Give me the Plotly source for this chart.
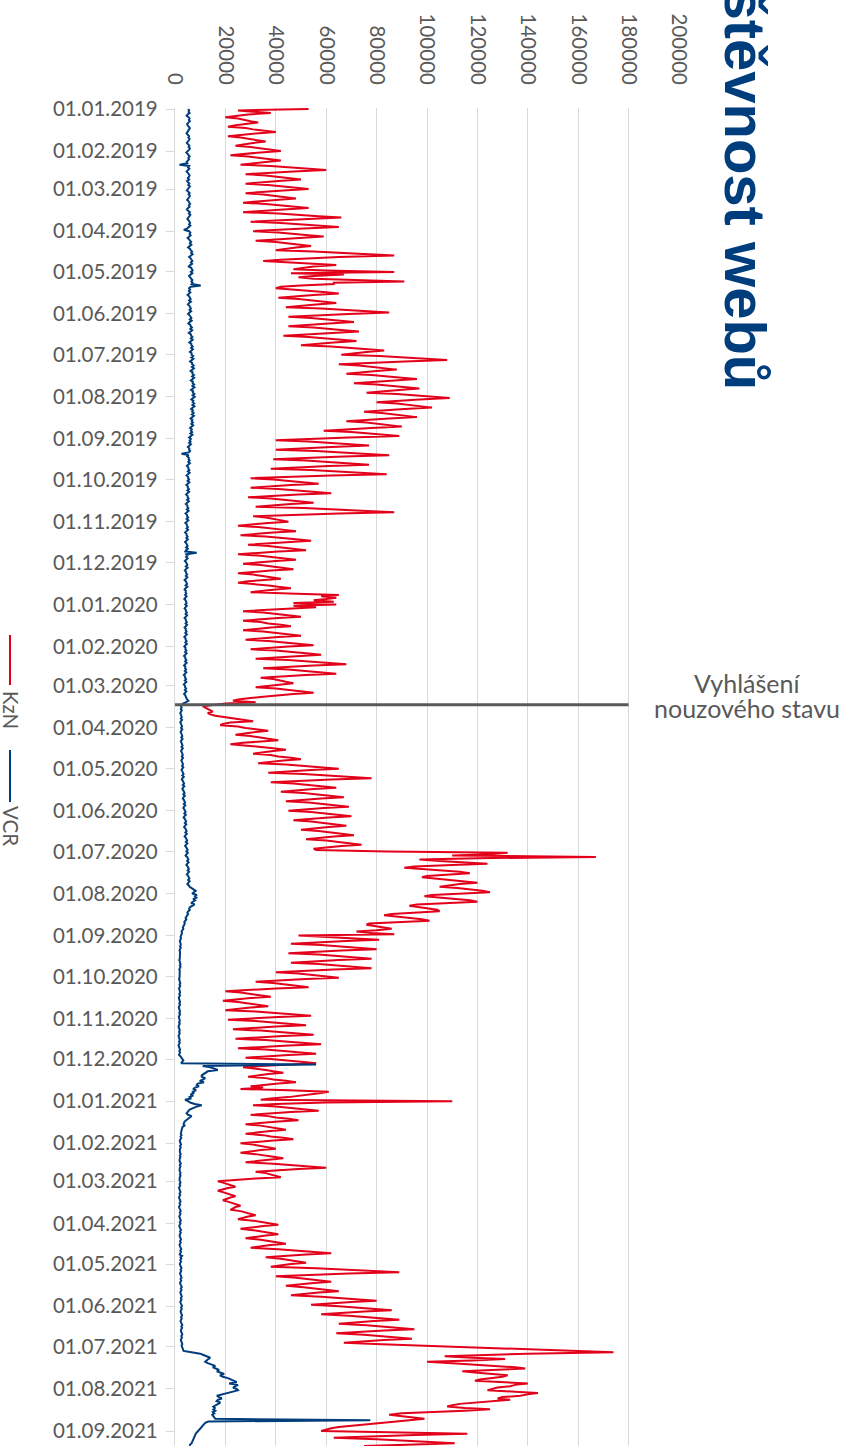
import pandas as pd
import plotly.graph_objects as go

# KzN daily visits (thousands), one row per week Mon..Sun (first row starts Tue 2019-01-01)
kzn_weeks = [
    [53,25,31,38,29,23],
    [20,25,27,30,33,28,24],[21,28,31,36,40,32,26],[21,26,29,33,36,31,27],[24,30,34,38,42,34,27],
    [22,29,33,38,42,36,30],[26,38,45,53,60,47,36],[28,36,40,45,50,41,34],[28,37,42,48,53,43,34],
    [28,35,39,44,48,40,32],[27,36,41,47,53,43,34],[27,41,48,57,66,52,39],[30,42,49,57,65,51,40],
    [31,41,46,53,59,48,39],[32,40,44,49,54,48,44],[40,55,65,80,87,65,50],[42,35,45,55,64,55,50],
    [47,60,87,46,67,55,49],[55,70,91,63,63,50,42],[40,49,54,60,65,55,47],[41,49,54,59,64,56,49],
    [44,58,67,76,85,69,55],[45,54,59,65,71,61,52],[45,55,60,67,73,61,51],[43,53,59,66,72,63,56],
    [50,62,68,76,83,76,70],[66,81,89,99,108,91,76],[65,73,78,83,88,80,73],[68,78,83,90,96,86,77],
    [71,80,85,91,97,89,81],[76,88,94,102,109,97,87],[80,88,92,97,102,91,82],[75,82,87,91,96,85,75],
    [68,76,80,85,90,78,67],[59,70,76,82,89,69,52],[40,53,60,69,77,62,49],[40,56,65,75,85,67,51],
    [39,52,60,69,77,61,48],[38,54,63,74,84,62,44],[30,39,45,51,57,46,37],[30,41,48,55,62,49,37],
    [29,38,43,49,55,46,38],[32,51,62,75,87,65,45],[31,36,39,42,45,37,30],[25,33,38,43,48,39,32],
    [26,36,41,48,54,44,35],[29,37,42,47,52,41,32],[25,33,38,43,48,40,32],[27,34,38,43,47,38,31],
    [25,31,34,38,42,35,29],[25,32,37,41,46,40,34],[30,45,65,58,64,60,55],[63,47,64,47,56,45,35],
    [27,35,40,45,50,41,33],[27,34,37,42,46,38,32],[27,35,40,45,50,41,34],[28,37,43,49,55,45,36],
    [30,40,45,52,58,48,39],[32,45,52,60,68,55,43],[35,45,51,58,64,52,42],[34,39,41,44,47,41,36],
    [32,40,45,50,55,47,40],[35,30,25,23,32,20,14],[11,12,13,14,15,13,14],[16,20,24,28,31,22,19],
    [18,25,28,33,37,32,27],[24,30,33,37,41,33,27],[22,30,34,39,44,39,34],[31,38,41,46,50,43,37],
    [33,44,51,58,65,54,44],[37,51,60,69,78,62,48],[38,47,52,58,64,55,48],[42,51,56,62,67,58,50],
    [44,53,58,64,69,59,51],[45,54,59,65,70,61,53],[47,54,59,63,68,61,55],[50,57,62,66,71,63,57],
    [52,60,64,69,74,66,60],[55,56,84,132,125,110,167],[120,97,105,115,124,110,95],[91,100,108,113,117,106,100],
    [98,104,110,115,120,113,108],[105,112,118,122,125,112,102],[99,106,112,117,120,105,96],[93,97,101,104,105,92,86],
    [83,89,94,98,101,86,77],[76,80,84,86,80,72,78],[87,49,62,72,81,68,55],[46,58,65,73,80,66,54],
    [45,57,63,71,78,65,54],[46,57,64,71,78,63,50],[40,49,54,60,65,52,40],[32,39,44,48,53,40,28],
    [20,26,30,34,38,30,24],[19,25,29,33,37,30,24],[20,32,39,47,54,41,29],[21,32,38,45,52,40,30],
    [23,34,41,48,55,43,32],[24,36,43,51,58,45,33],[25,36,42,49,56,45,35],[28,38,43,50,56,44,34],
    [27,33,36,39,43,37,33],[29,36,39,44,48,41,35],[30,35,26,45,61,58,54],[50,45,38,34,110,60,40],
    [31,40,45,51,57,46,37],[30,37,40,45,49,41,33],[28,34,37,40,44,38,32],[28,35,38,43,47,39,31],
    [26,31,34,37,40,34,30],[26,32,35,39,43,37,32],[28,39,46,53,60,49,39],[32,36,38,40,42,32,23],
    [17,19,21,22,24,21,19],[17,19,21,22,24,22,20],[19,21,23,24,26,24,23],[22,26,28,30,32,29,27],
    [25,31,34,37,41,35,30],[26,31,34,38,41,36,31],[28,34,37,40,44,38,34],[30,41,48,55,62,52,43],
    [36,42,45,48,52,46,42],[38,56,66,78,89,69,52],[40,48,52,57,62,55,49],[44,51,56,60,65,57,51],
    [46,58,65,73,80,70,61],[54,65,72,79,86,75,65],[58,69,75,82,89,79,71],[65,76,82,88,95,83,72],
    [64,75,81,87,94,83,74],[67,82,97,112,127,143,158],[174,140,120,107,118,131,118],[100,110,120,128,135,139,125],
    [114,120,127,132,130,125,121],[119,128,140,135,133,128,126],[124,135,144,140,137,130,128],[133,125,118,113,110,108,115],
    [125,115,100,90,85,90,95],[99,93,87,80,75,70,65],[62,60,58,85,116,95,75],[63,80,90,100,111,95,75],
]

# VCR daily visits (thousands), same weekly layout
vcr_weeks = [
    [5.2,5.6,5.4,5.8,5.0,4.6],
    [5.4,5.8,5.5,5.9,5.3,4.8,5.0],[5.5,5.9,5.6,5.2,5.0,4.6,5.1],[5.6,5.3,5.8,5.5,5.1,4.7,5.2],[5.7,5.4,5.9,5.6,5.0,4.5,5.0],
    [5.5,5.8,5.3,5.6,5.1,4.6,4.9],[1.8,5.6,5.2,5.7,5.0,4.6,5.1],[5.4,5.8,5.5,5.1,5.6,4.8,5.2],[5.7,5.3,5.9,5.5,5.0,4.7,5.3],
    [5.8,5.4,5.9,5.6,5.2,4.8,5.4],[5.6,6.0,5.5,5.8,5.1,4.7,5.2],[5.9,5.5,6.1,5.7,5.2,4.9,5.4],[5.8,6.0,5.6,6.1,5.4,4.9,3.5],
    [5.6,6.1,5.8,6.2,5.5,5.0,5.6],[6.0,6.4,5.9,6.5,5.8,5.2,6.0],[6.2,6.8,6.4,7.0,6.3,5.6,6.2],[6.5,6.9,6.3,6.8,6.0,5.5,6.4],
    [6.6,7.0,6.3,6.9,6.2,5.6,6.0],[6.4,6.9,6.5,7.0,6.6,10.2,6.3],[5.6,6.0,5.5,6.1,5.4,5.0,5.6],[5.8,6.2,5.6,6.3,5.5,5.1,5.7],
    [5.9,6.3,5.8,6.4,5.7,5.2,5.8],[6.0,6.5,5.9,6.6,5.8,5.3,6.1],[6.2,6.7,6.1,6.8,6.0,5.5,6.3],[6.4,6.9,6.3,7.0,6.2,5.7,6.5],
    [6.5,7.0,6.4,7.1,6.4,5.9,6.6],[6.6,7.2,6.5,7.3,6.6,6.0,6.8],[6.8,7.4,6.7,7.5,6.8,6.2,7.0],[6.9,7.5,6.8,7.6,6.9,6.3,7.1],
    [7.0,7.6,6.9,7.7,7.0,6.4,7.2],[7.1,7.7,7.0,7.8,7.1,6.5,7.3],[7.0,7.6,6.9,7.7,7.0,6.4,7.1],[6.8,7.4,6.7,7.5,6.8,6.2,6.9],
    [6.6,7.1,6.5,7.2,6.5,6.0,6.7],[6.3,6.8,6.1,6.9,6.2,5.6,6.3],[5.8,6.2,5.6,6.3,5.6,5.1,5.7],[5.6,6.0,5.5,2.6,5.4,4.9,5.5],
    [5.4,5.8,5.3,5.9,5.2,4.7,5.3],[5.3,5.7,5.1,5.8,5.1,4.6,5.2],[5.2,5.6,5.0,5.7,5.0,4.5,5.1],[5.1,5.5,4.9,5.6,4.9,4.4,5.0],
    [5.0,5.4,4.8,5.5,4.8,4.3,4.9],[4.9,5.3,4.7,5.4,4.7,4.2,4.8],[4.8,5.2,4.6,5.3,4.6,4.1,4.7],[4.7,5.1,4.6,5.2,4.5,4.0,4.6],
    [4.6,5.0,4.5,5.1,4.4,4.0,4.5],[4.6,5.0,4.4,5.1,4.4,4.1,8.6],[4.5,4.9,4.4,5.0,4.3,3.9,4.4],[4.5,4.9,4.3,5.0,4.3,3.9,4.4],
    [4.4,4.8,4.3,4.9,4.2,3.8,4.3],[4.4,4.8,4.2,4.9,4.2,3.8,4.3],[4.2,4.5,4.0,4.6,4.1,3.7,4.2],[4.3,4.6,4.1,4.7,4.2,3.8,4.3],
    [4.3,4.7,4.2,4.8,4.2,3.8,4.3],[4.3,4.7,4.2,4.8,4.2,3.8,4.3],[4.2,4.6,4.1,4.7,4.1,3.7,4.2],[4.2,4.6,4.1,4.7,4.1,3.7,4.2],
    [4.1,4.5,4.0,4.6,4.0,3.6,4.1],[4.1,4.5,4.0,4.6,4.0,3.6,4.1],[4.0,4.4,3.9,4.5,3.9,3.5,4.0],[4.0,4.4,3.9,4.5,3.9,3.5,4.0],
    [4.0,4.4,3.9,4.5,4.0,3.6,4.1],[4.2,4.5,4.8,5.3,4.4,3.2,2.8],[2.4,2.6,2.3,2.7,2.4,2.1,2.3],[2.4,2.7,2.3,2.8,2.4,2.1,2.4],
    [2.5,2.8,2.4,2.9,2.5,2.2,2.5],[2.6,2.9,2.5,3.0,2.6,2.3,2.6],[2.7,3.0,2.6,3.1,2.7,2.4,2.7],[2.8,3.1,2.7,3.2,2.8,2.5,2.8],
    [2.9,3.2,2.8,3.3,2.9,2.6,2.9],[3.0,3.4,2.9,3.5,3.0,2.7,3.1],[3.2,3.6,3.1,3.7,3.2,2.9,3.3],[3.4,3.8,3.3,3.9,3.4,3.1,3.5],
    [3.6,4.0,3.5,4.1,3.6,3.3,3.7],[3.8,4.2,3.7,4.3,3.8,3.4,3.9],[4.0,4.4,3.9,4.5,4.0,3.6,4.1],[4.2,4.6,4.1,4.7,4.2,3.8,4.3],
    [4.4,4.8,4.3,4.9,4.4,4.0,4.5],[4.6,5.0,4.5,5.1,4.6,4.2,4.8],[4.9,5.3,4.8,5.4,4.9,4.5,5.0],[5.1,5.5,5.0,5.6,5.1,4.7,5.2],
    [5.3,5.7,5.2,5.8,5.3,4.9,5.5],[5.8,6.6,7.4,8.2,7.5,6.8,8.7],[7.9,8.5,7.2,8.0,6.9,6.4,7.8],[6.6,6.0,5.6,5.9,5.3,4.9,5.2],
    [4.8,4.6,4.2,4.5,4.0,3.7,3.9],[3.6,3.4,3.1,3.3,2.9,2.6,2.8],[2.6,2.4,2.2,2.4,2.1,1.9,2.1],[2.1,2.3,2.0,2.3,2.0,1.8,2.0],
    [2.0,2.2,1.9,2.2,1.9,1.7,1.9],[2.0,2.2,1.9,2.2,1.9,1.7,1.9],[1.9,2.1,1.8,2.1,1.8,1.6,1.8],[1.9,2.1,1.8,2.1,1.8,1.6,1.8],
    [1.8,2.0,1.7,2.0,1.7,1.5,1.7],[1.8,2.0,1.7,2.0,1.7,1.5,1.7],[1.8,2.0,1.7,2.0,1.7,1.5,1.7],[1.7,1.9,1.6,1.9,1.6,1.4,1.6],
    [1.7,1.9,1.6,1.9,1.6,1.4,1.6],[1.7,1.9,1.6,1.9,1.6,1.4,1.6],[1.8,2.0,1.7,2.0,1.8,1.6,2.2],[2.5,3.0,3.3,2.8,2.4,56.0,11.0],
    [14.0,15.2,17.0,13.0,12.0,11.5,10.6],[10.6,12.0,11.2,9.8,11.5,9.0,8.6],[9.5,8.0,7.2,8.4,6.8,7.6,6.2],[6.9,5.8,6.4,4.0,5.2,6.0,7.8],
    [10.6,8.6,7.2,6.0,5.4,4.8,4.6],[5.2,6.6,5.8,5.0,4.4,3.8,3.6],[3.4,3.8,3.0,2.8,2.6,2.4,2.5],[2.3,2.6,2.2,2.5,2.1,1.9,2.0],
    [2.1,2.4,2.0,2.3,2.0,1.8,1.9],[2.0,2.3,1.9,2.2,1.9,1.7,1.8],[2.0,2.3,1.9,2.2,1.9,1.7,1.8],[2.0,2.2,1.9,2.2,1.9,1.7,1.8],
    [1.9,2.2,1.8,2.1,1.8,1.6,1.8],[1.9,2.2,1.8,2.1,1.8,1.6,1.8],[1.9,2.2,1.8,2.1,1.8,1.6,1.8],[2.0,2.3,1.9,2.2,1.9,1.7,1.9],
    [2.0,2.3,1.9,2.2,1.9,1.7,1.9],[2.1,2.4,2.0,2.3,2.0,1.8,2.0],[2.1,2.4,2.0,2.3,2.0,1.8,2.0],[2.2,2.5,2.1,2.4,2.1,1.9,2.8],
    [2.2,2.5,2.1,2.4,2.1,1.9,2.1],[2.3,2.6,2.2,2.5,2.2,2.0,2.2],[2.3,2.6,2.2,2.5,2.2,2.0,2.2],[2.4,2.7,2.3,2.6,2.3,2.1,2.3],
    [2.4,2.7,2.3,2.6,2.3,2.1,2.3],[2.5,2.8,2.4,2.7,2.4,2.2,2.4],[2.5,2.8,2.4,2.7,2.4,2.2,2.4],[2.6,2.9,2.5,2.8,2.5,2.3,2.5],
    [2.6,2.9,2.5,2.8,2.5,2.3,2.5],[2.6,2.9,2.6,2.8,2.7,2.9,3.4],[6.5,10.0,11.3,12.6,14.0,13.2,12.6],[12.0,13.0,14.5,16.0,15.0,16.6,17.5],
    [16.6,18.0,19.5,17.8,19.0,21.0,22.0],[23.5,24.5,21.5,25.0,24.0,23.0,24.5],[25.0,23.0,21.0,18.0,16.6,17.5,18.6],[17.0,16.5,18.0,17.2,16.0,15.2,15.8],
    [15.2,16.0,15.0,15.6,14.8,15.2,15.5],[16.0,77.5,13.2,12.0,11.5,11.0,10.4],[10.0,9.6,9.0,8.6,8.2,8.0,7.8],[7.6,7.4,7.3,7.0,6.6,6.0,5.8],
]

start_date = "2019-01-01"
emergency_date = "2020-03-15"
x_ticks = [0, 20000, 40000, 60000, 80000, 100000, 120000, 140000, 160000, 180000, 200000]
series_names = ["KzN", "VCR"]
title_text = "Návštěvnost webů"
note_lines = ["Vyhlášení", "nouzového stavu"]

RED = "#E2001A"
BLUE = "#003D7C"
GREY = "#595959"
LIGHT = "#D9D9D9"

kzn = [v * 1000 for row in kzn_weeks for v in row]
vcr = [v * 1000 for row in vcr_weeks for v in row]
dates_k = pd.date_range(start_date, periods=len(kzn), freq="D")
dates_v = pd.date_range(start_date, periods=len(vcr), freq="D")

W, H = 852, 1446
L, R, T, B = 175, 173, 108, 0

def px(xp):
    return (xp - L) / (W - L - R)

def py(yp):
    return (H - B - yp) / (H - T - B)

fig = go.Figure()
fig.add_trace(go.Scatter(x=kzn, y=dates_k, mode="lines", name=series_names[0],
                         line=dict(color=RED, width=2), showlegend=False))
fig.add_trace(go.Scatter(x=vcr, y=dates_v, mode="lines", name=series_names[1],
                         line=dict(color=BLUE, width=2), showlegend=False))

fig.add_shape(type="line", xref="x", yref="y", x0=0, x1=180000,
              y0=emergency_date, y1=emergency_date, line=dict(color=GREY, width=3))

font_main = "Lato, 'Open Sans', sans-serif"

fig.add_annotation(text="<b>" + title_text + "</b>", xref="paper", yref="paper",
                   x=px(745), y=py(135), xanchor="center", yanchor="middle",
                   textangle=90, showarrow=False,
                   font=dict(family="Liberation Sans, Arial, sans-serif", size=58, color=BLUE))
fig.add_annotation(text=note_lines[0], xref="paper", yref="paper", x=px(747), y=py(683),
                   xanchor="center", yanchor="middle", showarrow=False,
                   font=dict(family=font_main, size=25, color=GREY))
fig.add_annotation(text=note_lines[1], xref="paper", yref="paper", x=px(747), y=py(708),
                   xanchor="center", yanchor="middle", showarrow=False,
                   font=dict(family=font_main, size=25, color=GREY))

# rotated legend
fig.add_shape(type="line", xref="paper", yref="paper", x0=px(10), x1=px(10),
              y0=py(635), y1=py(685), line=dict(color=RED, width=2))
fig.add_annotation(text=series_names[0], xref="paper", yref="paper", x=px(11), y=py(710),
                   xanchor="center", yanchor="middle", textangle=90, showarrow=False,
                   font=dict(family=font_main, size=20.5, color=GREY))
fig.add_shape(type="line", xref="paper", yref="paper", x0=px(10), x1=px(10),
              y0=py(750), y1=py(802), line=dict(color=BLUE, width=2))
fig.add_annotation(text=series_names[1], xref="paper", yref="paper", x=px(11), y=py(826),
                   xanchor="center", yanchor="middle", textangle=90, showarrow=False,
                   font=dict(family=font_main, size=20.5, color=GREY))

fig.update_layout(
    width=W, height=H,
    margin=dict(l=L, r=R, t=T, b=B),
    paper_bgcolor="white", plot_bgcolor="white",
    showlegend=False,
    font=dict(family=font_main, color=GREY),
    xaxis=dict(range=[0, 200000], side="top", tickvals=x_ticks, tickformat="d",
               tickangle=90, tickfont=dict(size=20.5, color=GREY),
               showgrid=True, gridcolor=LIGHT, gridwidth=1.3, zeroline=False,
               showline=False, ticks="", ticklabelstandoff=19),
    yaxis=dict(type="date", range=["2021-09-12 01:00", "2018-12-31 06:00"],
               tick0="2019-01-01", dtick="M1", tickformat="%d.%m.%Y",
               tickfont=dict(size=20.5, color=GREY),
               ticks="outside", ticklen=8, tickcolor=LIGHT, tickwidth=1.3,
               showline=True, linecolor=LIGHT, linewidth=1.3, showgrid=False,
               zeroline=False, ticklabelstandoff=4),
)

fig.write_html("out.html",
               config={"displayModeBar": False},
               post_script="document.body.style.margin='0';document.body.style.overflow='hidden';")
